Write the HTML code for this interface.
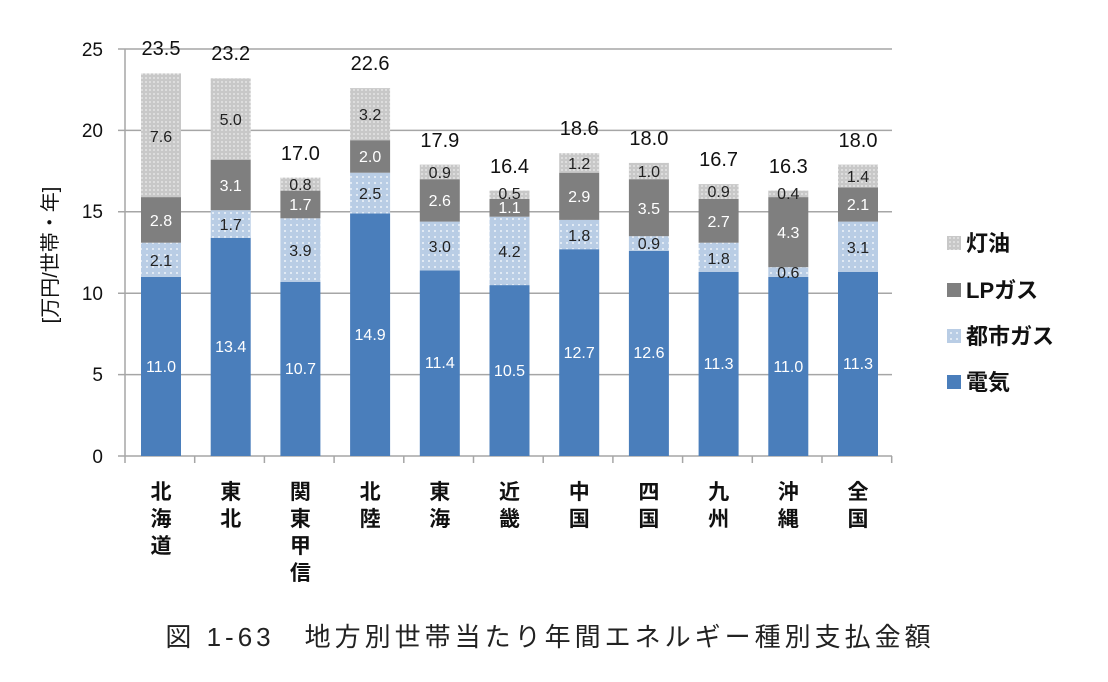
<!DOCTYPE html>
<html><head><meta charset="utf-8"><style>
body{margin:0;background:#fff;}
svg{display:block;font-family:"Liberation Sans","Noto Sans CJK JP",sans-serif;}
.w{fill:#fff;font-size:16px;text-anchor:middle;}
.d{fill:#222;font-size:16px;text-anchor:middle;}
.t{fill:#111;font-size:20px;text-anchor:middle;}
.y{fill:#111;font-size:19px;text-anchor:end;}
.c{fill:#111;font-size:21px;text-anchor:middle;font-weight:bold;}
.l{fill:#111;font-size:22px;font-weight:bold;}
</style></head><body>
<svg width="1108" height="682" viewBox="0 0 1108 682">
<defs>
<pattern id="pc" width="6" height="6" patternUnits="userSpaceOnUse"><rect width="6" height="6" fill="#b9cde5"/><circle cx="3" cy="3" r="1" fill="#eef3fa"/></pattern>
<pattern id="pk" width="4" height="4" patternUnits="userSpaceOnUse"><rect width="4" height="4" fill="#c8c8c8"/><circle cx="2" cy="2" r="0.9" fill="#ececec"/></pattern>
</defs>
<g stroke="#a6a6a6" stroke-width="1.5">
<line x1="118" y1="49" x2="892" y2="49"/><line x1="118" y1="130.4" x2="892" y2="130.4"/><line x1="118" y1="211.8" x2="892" y2="211.8"/><line x1="118" y1="293.2" x2="892" y2="293.2"/><line x1="118" y1="374.6" x2="892" y2="374.6"/><line x1="118" y1="456" x2="892" y2="456"/>
<line x1="125" y1="49" x2="125" y2="456"/>
<line x1="125" y1="456" x2="125" y2="463"/><line x1="194.7" y1="456" x2="194.7" y2="463"/><line x1="264.4" y1="456" x2="264.4" y2="463"/><line x1="334.1" y1="456" x2="334.1" y2="463"/><line x1="403.8" y1="456" x2="403.8" y2="463"/><line x1="473.5" y1="456" x2="473.5" y2="463"/><line x1="543.2" y1="456" x2="543.2" y2="463"/><line x1="612.9" y1="456" x2="612.9" y2="463"/><line x1="682.6" y1="456" x2="682.6" y2="463"/><line x1="752.3" y1="456" x2="752.3" y2="463"/><line x1="822" y1="456" x2="822" y2="463"/><line x1="891.7" y1="456" x2="891.7" y2="463"/>
</g>
<g class="y"><text x="103" y="56">25</text><text x="103" y="137">20</text><text x="103" y="218">15</text><text x="103" y="300">10</text><text x="103" y="381">5</text><text x="103" y="463">0</text></g>
<text transform="translate(57,255) rotate(-90)" style="font-size:20px;fill:#111;text-anchor:middle">[万円/世帯・年]</text>
<g>
<rect x="141" y="276.9" width="40" height="179.1" fill="#4a7ebb"/><rect x="141" y="242.7" width="40" height="34.2" fill="url(#pc)"/><rect x="141" y="197.1" width="40" height="45.6" fill="#7f7f7f"/><rect x="141" y="73.4" width="40" height="123.7" fill="url(#pk)"/>
<rect x="210.7" y="237.8" width="40" height="218.2" fill="#4a7ebb"/><rect x="210.7" y="210.2" width="40" height="27.6" fill="url(#pc)"/><rect x="210.7" y="159.7" width="40" height="50.5" fill="#7f7f7f"/><rect x="210.7" y="78.3" width="40" height="81.4" fill="url(#pk)"/>
<rect x="280.4" y="281.8" width="40" height="174.2" fill="#4a7ebb"/><rect x="280.4" y="218.3" width="40" height="63.5" fill="url(#pc)"/><rect x="280.4" y="190.6" width="40" height="27.7" fill="#7f7f7f"/><rect x="280.4" y="177.6" width="40" height="13" fill="url(#pk)"/>
<rect x="350.1" y="213.4" width="40" height="242.6" fill="#4a7ebb"/><rect x="350.1" y="172.7" width="40" height="40.7" fill="url(#pc)"/><rect x="350.1" y="140.2" width="40" height="32.5" fill="#7f7f7f"/><rect x="350.1" y="88.1" width="40" height="52.1" fill="url(#pk)"/>
<rect x="419.8" y="270.4" width="40" height="185.6" fill="#4a7ebb"/><rect x="419.8" y="221.6" width="40" height="48.8" fill="url(#pc)"/><rect x="419.8" y="179.2" width="40" height="42.4" fill="#7f7f7f"/><rect x="419.8" y="164.6" width="40" height="14.6" fill="url(#pk)"/>
<rect x="489.5" y="285.1" width="40" height="170.9" fill="#4a7ebb"/><rect x="489.5" y="216.7" width="40" height="68.4" fill="url(#pc)"/><rect x="489.5" y="198.8" width="40" height="17.9" fill="#7f7f7f"/><rect x="489.5" y="190.6" width="40" height="8.2" fill="url(#pk)"/>
<rect x="559.2" y="249.2" width="40" height="206.8" fill="#4a7ebb"/><rect x="559.2" y="219.9" width="40" height="29.3" fill="url(#pc)"/><rect x="559.2" y="172.7" width="40" height="47.2" fill="#7f7f7f"/><rect x="559.2" y="153.2" width="40" height="19.5" fill="url(#pk)"/>
<rect x="628.9" y="250.9" width="40" height="205.1" fill="#4a7ebb"/><rect x="628.9" y="236.2" width="40" height="14.7" fill="url(#pc)"/><rect x="628.9" y="179.2" width="40" height="57" fill="#7f7f7f"/><rect x="628.9" y="162.9" width="40" height="16.3" fill="url(#pk)"/>
<rect x="698.6" y="272" width="40" height="184" fill="#4a7ebb"/><rect x="698.6" y="242.7" width="40" height="29.3" fill="url(#pc)"/><rect x="698.6" y="198.8" width="40" height="43.9" fill="#7f7f7f"/><rect x="698.6" y="184.1" width="40" height="14.7" fill="url(#pk)"/>
<rect x="768.3" y="276.9" width="40" height="179.1" fill="#4a7ebb"/><rect x="768.3" y="267.2" width="40" height="9.7" fill="url(#pc)"/><rect x="768.3" y="197.1" width="40" height="70.1" fill="#7f7f7f"/><rect x="768.3" y="190.6" width="40" height="6.5" fill="url(#pk)"/>
<rect x="838" y="272" width="40" height="184" fill="#4a7ebb"/><rect x="838" y="221.6" width="40" height="50.4" fill="url(#pc)"/><rect x="838" y="187.4" width="40" height="34.2" fill="#7f7f7f"/><rect x="838" y="164.6" width="40" height="22.8" fill="url(#pk)"/>
</g>
<g class="w">
<text x="161" y="372">11.0</text><text x="230.7" y="352">13.4</text><text x="300.4" y="374">10.7</text><text x="370.1" y="340">14.9</text><text x="439.8" y="368">11.4</text><text x="509.5" y="376">10.5</text><text x="579.2" y="358">12.7</text><text x="648.9" y="358">12.6</text><text x="718.6" y="369">11.3</text><text x="788.3" y="372">11.0</text><text x="858" y="369">11.3</text>
<text x="161" y="226">2.8</text><text x="230.7" y="191">3.1</text><text x="300.4" y="210">1.7</text><text x="370.1" y="162">2.0</text><text x="439.8" y="206">2.6</text><text x="509.5" y="213">1.1</text><text x="579.2" y="202">2.9</text><text x="648.9" y="214">3.5</text><text x="718.6" y="227">2.7</text><text x="788.3" y="238">4.3</text><text x="858" y="210">2.1</text>
</g>
<g class="d">
<text x="161" y="266">2.1</text><text x="230.7" y="230">1.7</text><text x="300.4" y="256">3.9</text><text x="370.1" y="199">2.5</text><text x="439.8" y="252">3.0</text><text x="509.5" y="257">4.2</text><text x="579.2" y="241">1.8</text><text x="648.9" y="249">0.9</text><text x="718.6" y="264">1.8</text><text x="788.3" y="278">0.6</text><text x="858" y="253">3.1</text>
<text x="161" y="142">7.6</text><text x="230.7" y="125">5.0</text><text x="300.4" y="190">0.8</text><text x="370.1" y="120">3.2</text><text x="439.8" y="178">0.9</text><text x="509.5" y="199">0.5</text><text x="579.2" y="169">1.2</text><text x="648.9" y="177">1.0</text><text x="718.6" y="197">0.9</text><text x="788.3" y="199">0.4</text><text x="858" y="182">1.4</text>
</g>
<g class="t">
<text x="161" y="55">23.5</text><text x="230.7" y="60">23.2</text><text x="300.4" y="160">17.0</text><text x="370.1" y="70">22.6</text><text x="439.8" y="147">17.9</text><text x="509.5" y="173">16.4</text><text x="579.2" y="135">18.6</text><text x="648.9" y="145">18.0</text><text x="718.6" y="166">16.7</text><text x="788.3" y="173">16.3</text><text x="858" y="147">18.0</text>
</g>
<g class="c">
<text x="161" y="499">北</text><text x="161" y="526">海</text><text x="161" y="553">道</text>
<text x="230.7" y="499">東</text><text x="230.7" y="526">北</text>
<text x="300.4" y="499">関</text><text x="300.4" y="526">東</text><text x="300.4" y="553">甲</text><text x="300.4" y="580">信</text>
<text x="370.1" y="499">北</text><text x="370.1" y="526">陸</text>
<text x="439.8" y="499">東</text><text x="439.8" y="526">海</text>
<text x="509.5" y="499">近</text><text x="509.5" y="526">畿</text>
<text x="579.2" y="499">中</text><text x="579.2" y="526">国</text>
<text x="648.9" y="499">四</text><text x="648.9" y="526">国</text>
<text x="718.6" y="499">九</text><text x="718.6" y="526">州</text>
<text x="788.3" y="499">沖</text><text x="788.3" y="526">縄</text>
<text x="858" y="499">全</text><text x="858" y="526">国</text>
</g>
<rect x="947" y="236" width="14" height="14" fill="url(#pk)"/><text class="l" x="966" y="251">灯油</text>
<rect x="947" y="283" width="14" height="14" fill="#7f7f7f"/><text class="l" x="966" y="298">LPガス</text>
<rect x="947" y="329" width="14" height="14" fill="url(#pc)"/><text class="l" x="966" y="344">都市ガス</text>
<rect x="947" y="375" width="14" height="14" fill="#4a7ebb"/><text class="l" x="966" y="390">電気</text>
<text x="550" y="646" style="font-size:26px;fill:#222;text-anchor:middle;letter-spacing:4px">図 1-63　地方別世帯当たり年間エネルギー種別支払金額</text>
</svg>
</body></html>
